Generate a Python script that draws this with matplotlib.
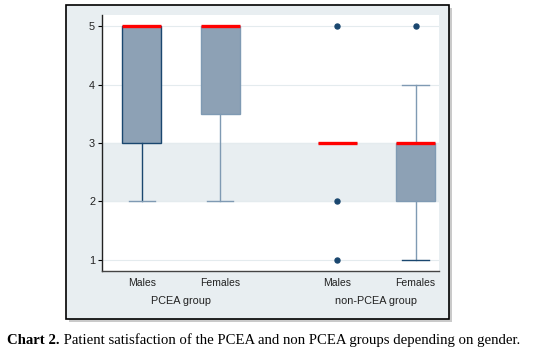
import matplotlib
matplotlib.use("Agg")
import matplotlib.pyplot as plt
from matplotlib.patches import Rectangle

# ---------------------------------------------------------------------------
# data ------------------------------------------------------------------------
# ---------------------------------------------------------------------------
groups = ["PCEA group", "non-PCEA group"]
genders = ["Males", "Females", "Males", "Females"]
q1 = [3, 3.5, 3, 2]
med = [5, 5, 3, 3]
q3 = [5, 5, 3, 3]
whislo = [2, 2, 3, 1]
whishi = [5, 5, 3, 4]
outliers = [[], [], [5, 2, 1], [5]]
yticks = [1, 2, 3, 4, 5]
caption_bold = "Chart 2."
caption = " Patient satisfaction of the PCEA and non PCEA groups depending on gender."

# ---------------------------------------------------------------------------
# style ------------------------------------------------------------------------
# ---------------------------------------------------------------------------
BG = "#E8EEF1"
FILL = "#8DA1B5"
NAVY = "#1A476F"
LIGHT = "#7F9AB3"
positions = [1, 2, 3.5, 4.5]
plt.rcParams["font.family"] = ["Liberation Sans", "DejaVu Sans"]

fig = plt.figure(figsize=(5.39, 3.53), dpi=100)
fig.patch.set_facecolor("white")

# framed graph region with a drop shadow
W, H = 539, 353
fx0, fy0, fx1, fy1 = 66, 5, 449, 319
fig.add_artist(Rectangle(((fx0 + 3) / W, 1 - (fy1 + 3) / H), (fx1 - fx0) / W, (fy1 - fy0) / H,
                         transform=fig.transFigure, facecolor="#a8a8a8", edgecolor="none",
                         alpha=0.6, zorder=0))
fig.add_artist(Rectangle((fx0 / W, 1 - fy1 / H), (fx1 - fx0) / W, (fy1 - fy0) / H,
                         transform=fig.transFigure, facecolor=BG, edgecolor="black",
                         linewidth=1.2, zorder=0.5))

ax = fig.add_axes([102 / W, 1 - 271 / H, 337 / W, 256 / H])
ax.set_facecolor("white")
ax.set_zorder(1)

stats = []
for i in range(len(genders)):
    stats.append({"q1": q1[i], "med": med[i], "q3": q3[i], "whislo": whislo[i],
                  "whishi": whishi[i], "fliers": outliers[i]})

bp = ax.bxp(stats, positions=positions, widths=0.5, patch_artist=True, showfliers=True,
            boxprops=dict(facecolor=FILL, edgecolor=LIGHT, linewidth=1.0),
            medianprops=dict(color="#FF0000", linewidth=2.4, solid_capstyle="butt"),
            whiskerprops=dict(color=LIGHT, linewidth=1.0),
            capprops=dict(color=LIGHT, linewidth=1.0),
            capwidths=0.34,
            flierprops=dict(marker="o", markersize=3.6, markerfacecolor=NAVY,
                            markeredgecolor=NAVY))

# first box is drawn with darker outline in the reference
bp["boxes"][0].set_edgecolor(NAVY)
for w in bp["whiskers"][0:2]:
    w.set_color(NAVY)
bp["caps"][6].set_color(NAVY)
for i in range(len(genders)):
    if whishi[i] == q3[i]:
        bp["caps"][2 * i + 1].set_visible(False)
    if whislo[i] == q1[i]:
        bp["caps"][2 * i].set_visible(False)
for m in bp["medians"]:
    m.set_zorder(5)

ax.axhspan(2, 3, color=BG, zorder=0)
for y in yticks:
    ax.axhline(y, color="#E4EBEE", linewidth=0.8, zorder=0.2)

ax.set_xlim(0.49, 4.8)
ax.set_ylim(0.81, 5.19)
ax.set_yticks(yticks)
ax.set_xticks(positions)
ax.set_xticklabels(genders, fontsize=7.5, color="#222222")
ax.tick_params(axis="x", length=0, pad=5)
ax.tick_params(axis="y", length=3, width=0.8, labelsize=7.8, labelcolor="#222222", pad=2)
for s in ["top", "right"]:
    ax.spines[s].set_visible(False)
ax.spines["left"].set_color("#222222")
ax.spines["bottom"].set_color("#444444")
ax.spines["left"].set_linewidth(1.0)
ax.spines["bottom"].set_linewidth(1.0)

for k, g in enumerate(groups):
    xc = (positions[2 * k] + positions[2 * k + 1]) / 2
    ax.annotate(g, xy=(xc, 0), xycoords=("data", "axes fraction"), xytext=(0, -18),
                textcoords="offset points", ha="center", va="top", fontsize=7.8,
                color="#222222", annotation_clip=False)

t1 = fig.text(7 / W, 1 - 347 / H, caption_bold, fontsize=10.6, fontweight="bold",
              family=["Liberation Serif", "DejaVu Serif"], va="bottom", ha="left")
ax.annotate(caption, xy=(1, 0), xycoords=t1, va="bottom", ha="left", fontsize=10.6,
            family=["Liberation Serif", "DejaVu Serif"], annotation_clip=False)

fig.savefig("out.png", dpi=100)
